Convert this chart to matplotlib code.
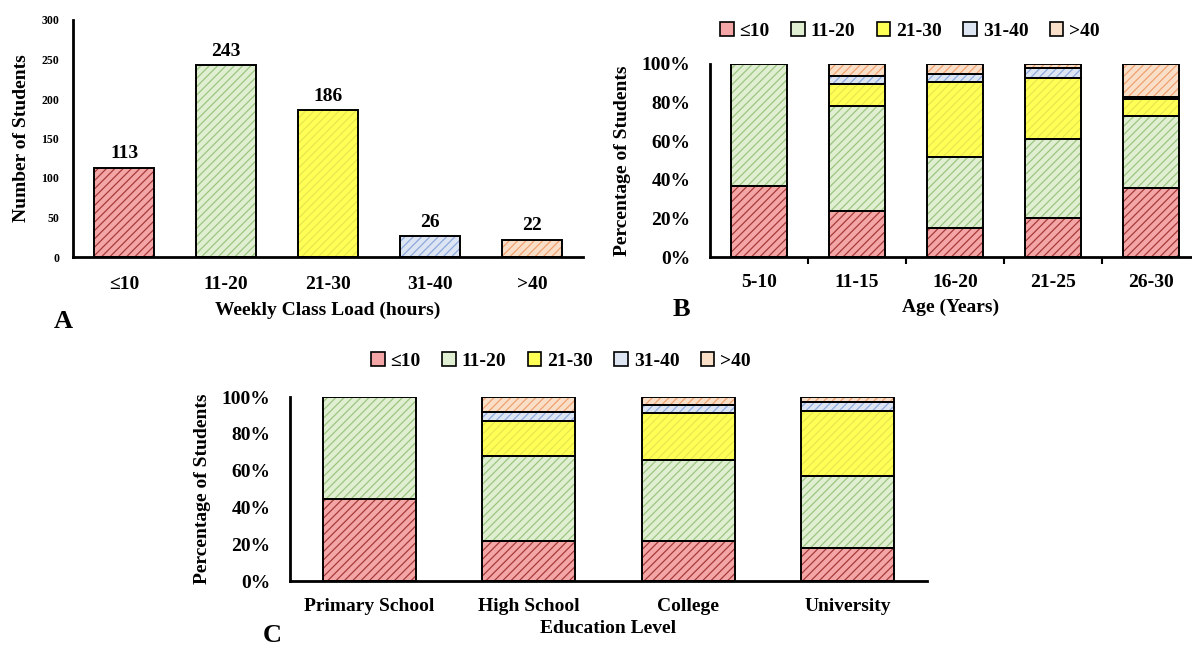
import matplotlib.pyplot as plt
import numpy as np
from matplotlib.patches import Patch

plt.rcParams['font.family'] = ['Liberation Serif', 'DejaVu Serif']
plt.rcParams['font.weight'] = 'bold'
plt.rcParams['hatch.linewidth'] = 0.9

W, H = 1192, 648

# ---- data ----
loads = ['≤10', '11-20', '21-30', '31-40', '>40']
counts = [113, 243, 186, 26, 22]

ages = ['5-10', '11-15', '16-20', '21-25', '26-30']
age_le10 = [37, 24, 15, 20, 36]
age_11_20 = [63, 54, 37, 41, 37]
age_21_30 = [0, 11.5, 38.5, 32, 9]
age_31_40 = [0, 4.5, 4.5, 5, 1]
age_gt40 = [0, 6, 5, 2, 17]

levels = ['Primary School', 'High School', 'College', 'University']
edu_le10 = [44.5, 22, 21.7, 18]
edu_11_20 = [55.5, 46, 44.3, 38.8]
edu_21_30 = [0, 19, 25.1, 35.8]
edu_31_40 = [0, 4.7, 4.7, 4.5]
edu_gt40 = [0, 8.3, 4.2, 2.9]

pct_ticks = [0, 20, 40, 60, 80, 100]

face_cols = ['#F4A6A6', '#E0EFD2', '#FFFF55', '#DDE5F3', '#FADFC8']
hatch_cols = ['#A83A3A', '#9CC67F', '#E6E650', '#8EA9DB', '#EEA070']


def box(x, y, w, h):
    # pixel box (top-left origin) -> figure fraction rect
    return [x / W, 1 - (y + h) / H, w / W, h / H]


def hatched_bar(ax, x, h, bottom, i, width, lw=1.4):
    # hatch drawn in its own colour, then a black outline on top
    ax.bar(x, h, width, bottom=bottom, color=face_cols[i],
           edgecolor=hatch_cols[i], hatch='////', linewidth=0, zorder=2)
    ax.bar(x, h, width, bottom=bottom, fill=False,
           edgecolor='black', linewidth=lw, zorder=3)


def style_axes(ax):
    for s in ['top', 'right']:
        ax.spines[s].set_visible(False)
    for s in ['left', 'bottom']:
        ax.spines[s].set_linewidth(2)


fig = plt.figure(figsize=(W / 100, H / 100), dpi=100)

# ---- A ----
axA = fig.add_axes(box(73, 20, 510, 237))
xa = np.arange(len(loads))
for i, v in enumerate(counts):
    hatched_bar(axA, xa[i], v, 0, i, 0.58)
    axA.text(xa[i], v + 7, str(v), ha='center', va='bottom', fontsize=14, fontweight='bold')
axA.set_xlim(-0.5, 4.5)
axA.set_ylim(0, 300)
axA.set_yticks(range(0, 301, 50))
axA.set_xticks(xa, loads)
axA.tick_params(axis='x', length=0, pad=14, labelsize=14)
axA.tick_params(axis='y', length=0, pad=10, labelsize=8.5)
axA.set_xlabel('Weekly Class Load (hours)', fontsize=14, fontweight='bold', labelpad=6)
axA.set_ylabel('Number of Students', fontsize=14, fontweight='bold', labelpad=8)
style_axes(axA)
fig.text(63 / W, 1 - 322 / H, 'A', fontsize=19, fontweight='bold', ha='center', va='center')


def stacked(ax, cats, series, width):
    x = np.arange(len(cats))
    bottom = np.zeros(len(cats))
    for i, vals in enumerate(series):
        vals = np.array(vals, dtype=float)
        for j in range(len(cats)):
            if vals[j] > 0:
                hatched_bar(ax, x[j], vals[j], bottom[j], i, width)
        bottom += vals
    ax.set_ylim(0, 100)
    ax.set_yticks(pct_ticks, [f'{t}%' for t in pct_ticks])
    ax.set_xticks(x, cats)
    ax.tick_params(axis='y', length=0, pad=14, labelsize=14)
    ax.tick_params(axis='x', length=0, pad=12, labelsize=14)
    style_axes(ax)
    return x


handles = [Patch(facecolor=face_cols[i], edgecolor='black', linewidth=1.2) for i in range(5)]

# ---- B ----
axB = fig.add_axes(box(710, 64, 482, 193))
xb = stacked(axB, ages, [age_le10, age_11_20, age_21_30, age_31_40, age_gt40], 0.57)
axB.set_xlim(-0.5, 4.42)
axB.set_xticks(xb[:-1] + 0.5, minor=True)
axB.tick_params(axis='x', which='minor', length=5, width=1.5, direction='out')
axB.set_xlabel('Age (Years)', fontsize=14, fontweight='bold', labelpad=6)
axB.set_ylabel('Percentage of Students', fontsize=14, fontweight='bold', labelpad=8)
fig.legend(handles, loads, loc='center', bbox_to_anchor=(910 / W, 1 - 31 / H), ncol=5,
           frameon=False, fontsize=14, handlelength=0.7, handleheight=0.7,
           handletextpad=0.3, columnspacing=1.1)
fig.text(681 / W, 1 - 310 / H, 'B', fontsize=19, fontweight='bold', ha='center', va='center')

# ---- C ----
axC = fig.add_axes(box(290, 397, 637, 184))
xc = stacked(axC, levels, [edu_le10, edu_11_20, edu_21_30, edu_31_40, edu_gt40], 0.585)
axC.set_xlim(-0.5, 3.5)
axC.set_xlabel('Education Level', fontsize=14, fontweight='bold', labelpad=4)
axC.set_ylabel('Percentage of Students', fontsize=14, fontweight='bold', labelpad=8)
fig.legend(handles, loads, loc='center', bbox_to_anchor=(561 / W, 1 - 361 / H), ncol=5,
           frameon=False, fontsize=14, handlelength=0.7, handleheight=0.7,
           handletextpad=0.3, columnspacing=1.1)
fig.text(272 / W, 1 - 635 / H, 'C', fontsize=19, fontweight='bold', ha='center', va='center')

fig.savefig('out.png', dpi=100)
